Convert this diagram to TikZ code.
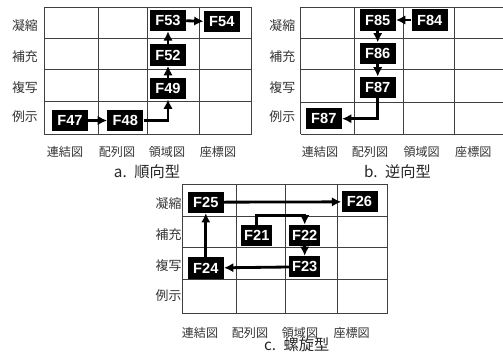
\documentclass[tikz,border=0pt]{standalone}
\usepackage{fontspec}
\newfontfamily\cjk{Noto Sans CJK JP}
\newfontfamily\boxfont{Liberation Sans}
\usetikzlibrary{arrows.meta}
\definecolor{gridgray}{HTML}{404040}
\definecolor{labelgray}{HTML}{333333}
\tikzset{
  fbox/.style={
    fill=black,
    text=white,
    inner sep=0pt,
    minimum width=1.08cm,
    minimum height=0.64cm,
    font=\boxfont\bfseries\fontsize{12.5}{12.5}\selectfont
  },
  narrowbox/.style={
    fbox,
    minimum width=0.94cm
  },
  rowlabel/.style={text=labelgray, font=\cjk\fontsize{11}{11}\selectfont},
  collabel/.style={text=labelgray, font=\cjk\fontsize{10.3}{10.3}\selectfont},
  caption/.style={text=black!85, font=\cjk\fontsize{13}{13}\selectfont},
  gridline/.style={draw=gridgray, line width=0.8pt},
  link/.style={
    -{Latex[length=8pt,width=8pt]},
    line width=2.4pt
  }
}

\begin{document}
\begin{tikzpicture}[x=0.03cm, y=-0.03cm]
\useasboundingbox (0,0) rectangle (503,354);

% a. forward type
\foreach \x in {44.3,98.3,147.7,199.3,251.5}
  \draw[gridline] (\x,7.3) -- (\x,134.3);
\foreach \y in {7.3,38.3,69.3,101.7,134.3}
  \draw[gridline] (44.3,\y) -- (251.5,\y);
\foreach \t/\y [count=\i] in {凝縮/25.7,補充/57,複写/88,例示/117}
  \node[rowlabel] (arow\i) at (25,\y) {\t};
\foreach \t/\x [count=\i] in {連結図/65,配列図/117,領域図/167,座標図/218}
  \node[collabel] (acol\i) at (\x,152) {\t};
\node[caption] (acap) at (147,172) {a.\enspace 順向型};

\node[fbox] (a47) at (70,120.5) {F47};
\node[fbox] (a48) at (125.3,120.5) {F48};
\node[fbox] (a49) at (168,88.5) {F49};
\node[fbox] (a52) at (168,55) {F52};
\node[fbox] (a53) at (168,20.3) {F53};
\node[fbox] (a54) at (221.8,21.7) {F54};
\draw[link] (a47) -- (a48);
\draw[link] (a48.east) -| (a49.south);
\draw[link] (a49) -- (a52);
\draw[link] (a52) -- (a53);
\draw[link] (a53) -- (a54);

% b. reverse type
\foreach \x in {300.7,354.3,403.3,454.7}
  \draw[gridline] (\x,7) -- (\x,134);
\foreach \y in {7,38,69,102,134}
  \draw[gridline] (300.7,\y) -- (503,\y);
\foreach \t/\y [count=\i] in {凝縮/25.7,補充/57,複写/88,例示/117}
  \node[rowlabel] (brow\i) at (282.3,\y) {\t};
\foreach \t/\x [count=\i] in {連結図/320,配列図/370,領域図/421.7,座標図/473.3}
  \node[collabel] (bcol\i) at (\x,152) {\t};
\node[caption] (bcap) at (397.5,172) {b.\enspace 逆向型};

\node[fbox] (b85) at (377.7,20) {F85};
\node[fbox] (b84) at (429.7,20) {F84};
\node[fbox] (b86) at (377.7,53.3) {F86};
\node[fbox] (b87top) at (377.7,87.5) {F87};
\node[fbox] (b87bot) at (323.8,118.7) {F87};
\draw[link] (b84) -- (b85);
\draw[link] (b85) -- (b86);
\draw[link] (b86) -- (b87top);
\draw[link] (b87top.south) |- (b87bot.east);

% c. spiral type
\foreach \x in {182,236.7,285.7,337.3,387.7}
  \draw[gridline] (\x,184.5) -- (\x,313);
\foreach \y in {184.5,216,247.7,279.3,313}
  \draw[gridline] (182,\y) -- (387.7,\y);
\foreach \t/\y [count=\i] in {凝縮/203.3,補充/234.3,複写/266,例示/296}
  \node[rowlabel] (crow\i) at (168.5,\y) {\t};
\foreach \t/\x [count=\i] in {連結図/200,配列図/250,領域図/300,座標図/351.7}
  \node[collabel] (ccol\i) at (\x,332.7) {\t};
\node[caption] (ccap) at (296.7,345) {c.\enspace 螺旋型};

\node[fbox] (c25) at (205.8,202.2) {F25};
\node[fbox] (c26) at (359.5,201.8) {F26};
\node[narrowbox] (c21) at (256.8,235.5) {F21};
\node[narrowbox] (c22) at (304.7,235.5) {F22};
\node[narrowbox] (c23) at (304.7,266.8) {F23};
\node[fbox] (c24) at (205.8,268) {F24};
\draw[link] (c21.north) -- ++(0,-9.5) -| (c22.north);
\draw[link] (c22) -- (c23);
\draw[link] (c23) -- (c24);
\draw[link] (c24) -- (c25);
\draw[link] (c25) -- (c26);
\end{tikzpicture}
\end{document}
